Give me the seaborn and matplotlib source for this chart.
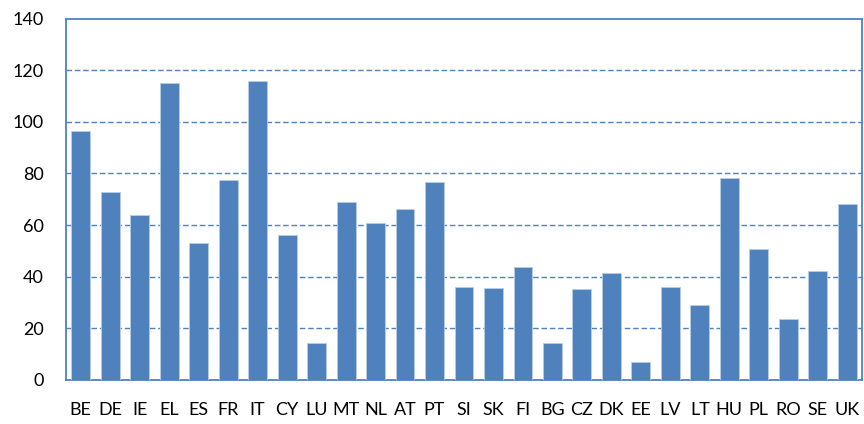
import matplotlib
matplotlib.use("Agg")
import matplotlib.pyplot as plt
import seaborn as sns
import pandas as pd

countries = ["BE", "DE", "IE", "EL", "ES", "FR", "IT", "CY", "LU", "MT", "NL", "AT", "PT",
             "SI", "SK", "FI", "BG", "CZ", "DK", "EE", "LV", "LT", "HU", "PL", "RO", "SE", "UK"]
values = [96.6, 73.0, 63.9, 115.0, 53.1, 77.6, 115.8, 56.1, 14.5, 69.0, 60.8, 66.3, 76.8,
          35.9, 35.7, 43.8, 14.5, 35.3, 41.5, 7.1, 35.9, 29.2, 78.2, 50.8, 23.5, 42.1, 68.0]
y_ticks = [0, 20, 40, 60, 80, 100, 120, 140]

df = pd.DataFrame({"country": countries, "value": values})

sns.set_theme(style="white")
plt.rcParams["font.family"] = ["Lato", "DejaVu Sans"]

fig = plt.figure(figsize=(8.64, 4.24), dpi=100)
ax = fig.add_axes([66 / 864, 1 - 380 / 424, (862 - 66) / 864, (380 - 18.5) / 424])

blue = "#4F81BD"
sns.barplot(data=df, x="country", y="value", color=blue, saturation=1, width=0.64,
            edgecolor="#B9CDE5", linewidth=0.6, ax=ax, zorder=3)

ax.set_ylim(0, 140)
ax.set_xlim(-0.5, len(countries) - 0.5)
ax.set_yticks(y_ticks)
ax.set_yticklabels([str(t) for t in y_ticks])
ax.set_xlabel("")
ax.set_ylabel("")
for t in y_ticks[1:-1]:
    ax.axhline(t, color=blue, linestyle=(0, (4, 2)), linewidth=1.0, zorder=1)
for s in ax.spines.values():
    s.set_visible(True)
    s.set_color(blue)
    s.set_linewidth(1.3)
ax.tick_params(axis="y", length=0, pad=16, labelsize=13, colors="#000000")
ax.tick_params(axis="x", length=0, pad=16, labelsize=13, colors="#000000")
ax.grid(False)

fig.savefig("out.png", dpi=100)
